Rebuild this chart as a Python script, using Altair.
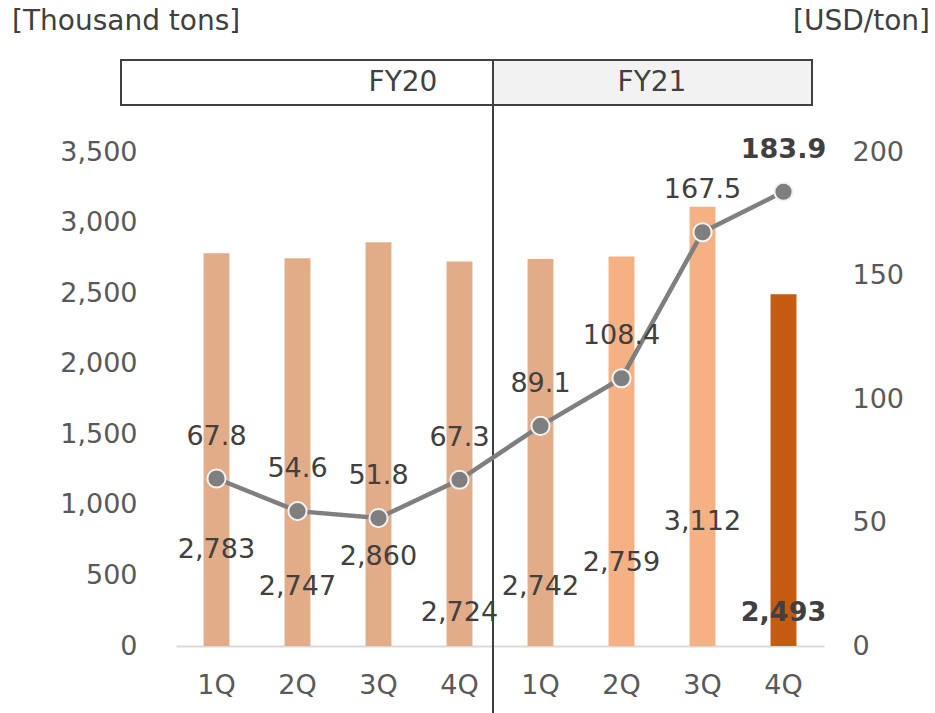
import altair as alt
import pandas as pd

# Quarterly sales volume (thousand tons) and average price (USD/ton)
periods = ["FY20 1Q", "FY20 2Q", "FY20 3Q", "FY20 4Q",
           "FY21 1Q", "FY21 2Q", "FY21 3Q", "FY21 4Q"]
volume = [2783, 2747, 2860, 2724, 2742, 2759, 3112, 2493]
price = [67.8, 54.6, 51.8, 67.3, 89.1, 108.4, 167.5, 183.9]
tone = ["past", "past", "past", "past", "past", "recent", "recent", "latest"]
# height (in thousand tons) at which each volume label sits
volume_label_at = [680, 418, 631, 234, 418, 588, 879, 234]

LATEST = periods[-1]
FONT = "DejaVu Sans"
TEXT = "#404040"
AXIS_TEXT = "#595959"
FS = 27
HEAD_FS = 28

df = pd.DataFrame({
    "period": periods,
    "volume": volume,
    "price": price,
    "tone": tone,
    "label_at": volume_label_at,
})

x = alt.X(
    "period:N",
    sort=periods,
    scale=alt.Scale(paddingInner=0.68, paddingOuter=0.34),
    axis=alt.Axis(
        title=None,
        labelExpr="split(datum.label, ' ')[1]",
        labelAngle=0,
        labelFont=FONT,
        labelFontSize=FS,
        labelColor=AXIS_TEXT,
        labelPadding=26,
        ticks=False,
        domainColor="#D9D9D9",
        domainWidth=2,
    ),
)

vol_scale = alt.Scale(domain=[0, 3500], nice=False, zero=True)
price_scale = alt.Scale(domain=[0, 200], nice=False, zero=True)

vol_axis = alt.Axis(
    values=list(range(0, 3501, 500)),
    format=",.0f",
    title=None,
    domain=False,
    ticks=False,
    grid=False,
    labelFont=FONT,
    labelFontSize=FS,
    labelColor=AXIS_TEXT,
    labelPadding=39,
)

price_axis = alt.Axis(
    orient="right",
    values=[0, 50, 100, 150, 200],
    format=".0f",
    title=None,
    domain=False,
    ticks=False,
    grid=False,
    labelFont=FONT,
    labelFontSize=FS,
    labelColor=AXIS_TEXT,
    labelPadding=28,
)

base = alt.Chart(df)
one = alt.Chart(pd.DataFrame({"k": [0]}))

# Fiscal-year header boxes, divider and unit captions
fy20_box = one.mark_rect(fill="white", stroke=TEXT, strokeWidth=2).encode(
    x=alt.value(-55), x2=alt.value(317), y=alt.value(-92), y2=alt.value(-47)
)
fy21_box = one.mark_rect(fill="#F2F2F2", stroke=TEXT, strokeWidth=2).encode(
    x=alt.value(317), x2=alt.value(636), y=alt.value(-92), y2=alt.value(-47)
)
divider = one.mark_rule(color=TEXT, strokeWidth=2).encode(
    x=alt.value(317), y=alt.value(-92), y2=alt.value(561)
)
fy20_text = one.mark_text(font=FONT, fontSize=HEAD_FS, color=TEXT, baseline="middle").encode(
    x=alt.value(227), y=alt.value(-69), text=alt.value("FY20")
)
fy21_text = one.mark_text(font=FONT, fontSize=HEAD_FS, color=TEXT, baseline="middle").encode(
    x=alt.value(476), y=alt.value(-69), text=alt.value("FY21")
)
left_unit = one.mark_text(font=FONT, fontSize=HEAD_FS, color=TEXT, align="left", baseline="middle").encode(
    x=alt.value(-164), y=alt.value(-130), text=alt.value("[Thousand tons]")
)
right_unit = one.mark_text(font=FONT, fontSize=HEAD_FS, color=TEXT, align="right", baseline="middle").encode(
    x=alt.value(754), y=alt.value(-130), text=alt.value("[USD/ton]")
)

bars = base.mark_bar().encode(
    x=x,
    y=alt.Y("volume:Q", scale=vol_scale, title=None, axis=vol_axis),
    color=alt.Color(
        "tone:N",
        scale=alt.Scale(domain=["past", "recent", "latest"],
                        range=["#E2AC88", "#F4B183", "#C55A11"]),
        legend=None,
    ),
)

vol_labels = base.mark_text(font=FONT, fontSize=FS, color=TEXT).encode(
    x=x,
    y=alt.Y("label_at:Q", scale=vol_scale, title=None, axis=vol_axis),
    text=alt.Text("volume:Q", format=","),
).transform_filter(alt.datum.period != LATEST)

vol_label_latest = base.mark_text(font=FONT, fontSize=FS, color=TEXT, fontWeight="bold").encode(
    x=x,
    y=alt.Y("label_at:Q", scale=vol_scale, title=None, axis=vol_axis),
    text=alt.Text("volume:Q", format=","),
).transform_filter(alt.datum.period == LATEST)

volume_layer = alt.layer(
    fy20_box, fy21_box, divider, fy20_text, fy21_text, left_unit, right_unit,
    bars, vol_labels, vol_label_latest,
)

price_y = alt.Y("price:Q", scale=price_scale, title=None, axis=price_axis)

line = base.mark_line(color="#7F7F7F", strokeWidth=4.5).encode(x=x, y=price_y)
points = base.mark_point(
    filled=True, fill="#7F7F7F", size=330, stroke="#F2F2F2", strokeWidth=2, opacity=1
).encode(x=x, y=price_y)
price_labels = base.mark_text(font=FONT, fontSize=FS, color=TEXT, dy=-42).encode(
    x=x, y=price_y, text=alt.Text("price:Q", format=".1f")
).transform_filter(alt.datum.period != LATEST)
price_label_latest = base.mark_text(font=FONT, fontSize=FS, color=TEXT, dy=-42, fontWeight="bold").encode(
    x=x, y=price_y, text=alt.Text("price:Q", format=".1f")
).transform_filter(alt.datum.period == LATEST)

price_layer = alt.layer(line, points, price_labels, price_label_latest)

chart = (
    alt.layer(volume_layer, price_layer)
    .resolve_scale(y="independent")
    .properties(
        width=648,
        height=494,
        autosize=alt.AutoSizeParams(type="none"),
        padding={"left": 176, "top": 152, "right": 111, "bottom": 67},
        background="white",
    )
    .configure_view(stroke=None)
    .configure_axis(grid=False)
)

chart.save("out.html", embed_options={"renderer": "svg", "actions": False})
